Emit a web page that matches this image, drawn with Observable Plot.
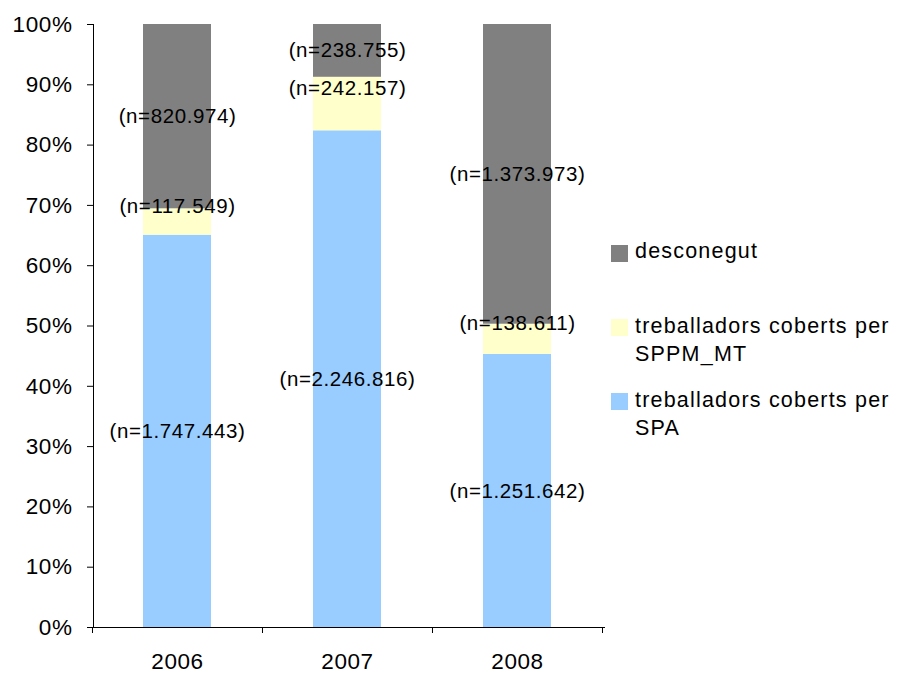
<!DOCTYPE html>
<html>
<head>
<meta charset="utf-8">
<script src="https://cdn.jsdelivr.net/npm/d3@7"></script>
<script src="https://cdn.jsdelivr.net/npm/@observablehq/plot@0.6"></script>
<style>
  body { margin: 0; background: #fff; }
  #wrap { position: relative; width: 897px; height: 673px; font-family: "Liberation Sans", Arial, sans-serif; }
  #wrap svg text { letter-spacing: 0.6px; }
  .leg { position: absolute; left: 611px; }
  .sw { position: absolute; left: 0; width: 17px; height: 17px; }
  .lt { position: absolute; left: 24px; font-size: 21.5px; line-height: 28px; letter-spacing: 1.2px; white-space: pre; color: #000; }
</style>
</head>
<body>
<div id="wrap"></div>
<script>
const years = ["2006", "2007", "2008"];
const series = ["treballadors coberts per SPA", "treballadors coberts per SPPM_MT", "desconegut"];
const spa = [1747443, 2246816, 1251642];
const sppm = [117549, 242157, 138611];
const desconegut = [820974, 238755, 1373973];
const colors = ["#99CCFF", "#FFFFCC", "#808080"];

const values = [spa, sppm, desconegut];
const rows = [];
years.forEach((y, i) => series.forEach((s, j) => rows.push({year: y, series: s, n: values[j][i]})));

const fmt = v => "(n=" + d3.format(",")(v).replace(/,/g, ".") + ")";

const W = 897, H = 673, ML = 93, MR = 293, MT = 24, MB = 46;
const XR = [ML, 601];
const padOuter = 0.294;
const step = (XR[1] - XR[0]) / (years.length - 0.6 + 2 * padOuter);

const chart = Plot.plot({
  width: W, height: H,
  marginLeft: ML, marginRight: MR, marginTop: MT, marginBottom: MB,
  style: {fontFamily: "'Liberation Sans', Arial, sans-serif", fontSize: "22px", color: "#000", background: "#fff", overflow: "visible"},
  x: {domain: years, range: XR, paddingInner: 0.6, paddingOuter: padOuter, label: null},
  y: {domain: [0, 1], label: null},
  color: {domain: series, range: colors},
  marks: [
    Plot.barY(rows, {x: "year", y: "n", z: "series", fill: "series", offset: "normalize"}),
    Plot.frame({anchor: "left", stroke: "#000"}),
    Plot.frame({anchor: "bottom", stroke: "#000"}),
    Plot.axisY({ticks: d3.range(0, 11).map(i => i / 10), tickFormat: d => Math.round(d * 100) + "%", tickSize: 6, tickPadding: 15, label: null, fontSize: 22.5}),
    Plot.axisX({tickSize: 0, tickPadding: 26, label: null, fontSize: 22.5}),
    Plot.ruleX(years, {x: d => d, y1: 0, y2: 0, insetBottom: -6, dx: -step / 2, stroke: "#000"}),
    Plot.ruleX(years.slice(-1), {x: d => d, y1: 0, y2: 0, insetBottom: -6, dx: step / 2, stroke: "#000"}),
    Plot.text(rows, Plot.stackY({x: "year", y: "n", z: "series", offset: "normalize",
      text: d => d.series === series[1] ? null : fmt(d.n), fontSize: 20.5, fill: "#000"})),
    Plot.text(rows, Plot.stackY({x: "year", y: "n", z: "series", offset: "normalize",
      text: d => d.series === series[1] ? fmt(d.n) : null, fontSize: 20.5, fill: "#000", dy: -16}))
  ]
});
const wrap = document.getElementById("wrap");
wrap.appendChild(chart);

// legend (top to bottom: reverse of stacking order)
const legTops = [245, 319, 393];
const legOrder = [2, 1, 0];
legOrder.forEach((j, k) => {
  const item = document.createElement("div");
  item.className = "leg";
  item.style.top = legTops[k] + "px";
  const sw = document.createElement("div");
  sw.className = "sw";
  sw.style.background = colors[j];
  const t = document.createElement("div");
  t.className = "lt";
  t.style.top = (k === 0 ? "-8px" : "-7px");
  t.textContent = series[j].replace(" per ", " per\n");
  item.appendChild(sw);
  item.appendChild(t);
  wrap.appendChild(item);
});
</script>
</body>
</html>
